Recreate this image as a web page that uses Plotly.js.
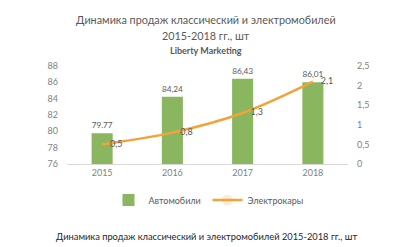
<!DOCTYPE html>
<html><head><meta charset="utf-8">
<script src="https://cdn.plot.ly/plotly-3.0.1.min.js"></script>
<style>html,body{margin:0;padding:0;background:#fff}#c{width:395px;height:247px}</style>
</head><body><div id="c"></div>
<script>
const years = ["2015", "2016", "2017", "2018"];
const cars = [79.77, 84.24, 86.43, 86.01];
const carLabels = ["79.77", "84,24", "86,43", "86,01"];
const evs = [0.5, 0.8, 1.3, 2.1];
const evLabels = ["0,5", "0,8", "1,3", "2,1"];
const seriesNames = ["Автомобили", "Электрокары"];
const titleLines = ["Динамика продаж классический и электромобилей", "2015-2018 гг., шт", "<b>Liberty Marketing</b>"];
const caption = "Динамика продаж классический и электромобилей 2015-2018 гг., шт";

const F = "Lato, Open Sans, sans-serif";
const grey = "#7f7f7f";
const data = [
  {type: "bar", x: years, y: cars, name: seriesNames[0], text: carLabels, textposition: "outside",
   texttemplate: "%{text}", cliponaxis: false, marker: {color: "#8ab660"}, width: 0.3,
   textfont: {family: F, size: 9, color: "#595959"}},
  {type: "scatter", mode: "lines+markers+text", x: years, y: evs, name: seriesNames[1], yaxis: "y2",
   text: evLabels, textposition: "middle right", cliponaxis: false,
   marker: {size: 11, opacity: 0, color: "#f2a33a"},
   line: {color: "#f2a33a", width: 2.5, shape: "spline"},
   textfont: {family: F, size: 9, color: "#595959"}}
];
const layout = {
  width: 395, height: 247, margin: {l: 67, r: 47, t: 66, b: 83},
  paper_bgcolor: "#fff", plot_bgcolor: "#fff", separators: ", ",
  font: {family: F, size: 9, color: grey},
  showlegend: true,
  legend: {orientation: "h", x: 0.5, xanchor: "center", y: -0.22, yanchor: "top",
           font: {family: F, size: 9, color: "#595959"}, itemwidth: 30, traceorder: "normal",
           entrywidth: 54, entrywidthmode: "pixels"},
  xaxis: {type: "category", showgrid: false, showline: true, linecolor: "#d9d9d9", linewidth: 1,
          ticks: "", tickfont: {family: F, size: 9, color: grey}, fixedrange: true},
  yaxis: {range: [76, 88], dtick: 2, showgrid: false, zeroline: false, showline: false,
          tickfont: {family: F, size: 9, color: grey}, ticklabelstandoff: 8},
  yaxis2: {overlaying: "y", side: "right", range: [0, 2.5], dtick: 0.5, showgrid: false,
           zeroline: false, showline: false, tickfont: {family: F, size: 9, color: grey}, ticklabelstandoff: 8},
  annotations: [
    {text: titleLines[0], xref: "paper", yref: "paper", x: 0.5, xanchor: "center", y: 0, yanchor: "middle",
     showarrow: false, font: {family: F, size: 10.8, color: "#595959"}},
    {text: titleLines[1], xref: "paper", yref: "paper", x: 0.5, xanchor: "center", y: 0, yanchor: "middle",
     showarrow: false, font: {family: F, size: 10.8, color: "#595959"}},
    {text: titleLines[2], xref: "paper", yref: "paper", x: 0.5, xanchor: "center", y: 0, yanchor: "middle",
     showarrow: false, font: {family: F, size: 9, color: "#595959"}},
    {text: caption, xref: "paper", yref: "paper", x: 0.5, xanchor: "center", y: 0, yanchor: "middle",
     showarrow: false, font: {family: F, size: 9.3, color: "#262626"}}
  ]
};
const ph = 247 - 66 - 83;
const py = p => (247 - 83 - p) / ph;
layout.annotations[0].y = py(19);
layout.annotations[1].y = py(35);
layout.annotations[2].y = py(50);
layout.annotations[3].y = py(236);
layout.annotations.forEach(a => a.x = (206 - 67) / (395 - 67 - 47));
Plotly.newPlot("c", data, layout, {displayModeBar: false, staticPlot: true});
</script></body></html>
